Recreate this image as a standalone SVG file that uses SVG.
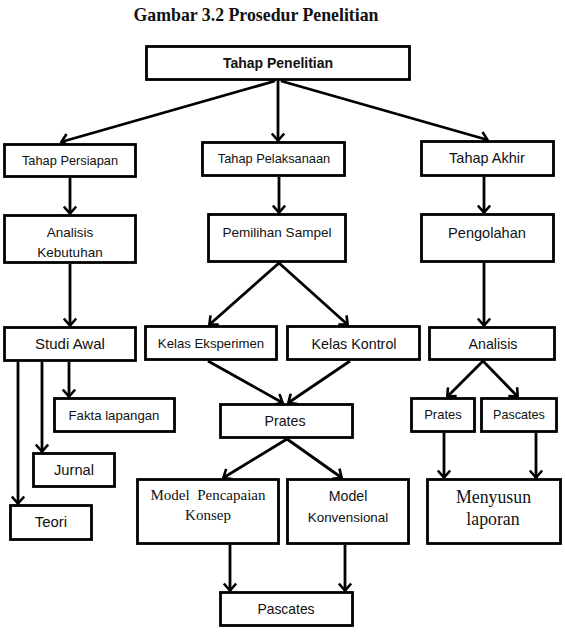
<svg xmlns="http://www.w3.org/2000/svg" width="565" height="639" viewBox="0 0 565 639">
<style>
.box{fill:#fff;stroke:#000;stroke-width:2.8}
.t{font-family:"Liberation Sans",Arial,sans-serif;text-anchor:middle;fill:#111}
.s{font-family:"Liberation Serif","Times New Roman",serif;text-anchor:middle;fill:#111;white-space:pre}
.ln{fill:none;stroke:#000;stroke-width:2.8;marker-end:url(#arr)}
</style>
<defs>
<marker id="arr" viewBox="0 0 14 14" refX="11" refY="7" markerWidth="14" markerHeight="14" markerUnits="userSpaceOnUse" orient="auto">
<path d="M3.5,0.8 L10.5,7 L3.5,13.2" fill="none" stroke="#000" stroke-width="2.6" stroke-linejoin="miter"/>
</marker>
</defs>
<rect width="565" height="639" fill="#fff"/>
<text x="256" y="21" style="font-family:'Liberation Serif','Times New Roman',serif;font-weight:bold;font-size:17.8px;text-anchor:middle;fill:#111">Gambar 3.2 Prosedur Penelitian</text>

<g id="connectors">
<line class="ln" x1="275" y1="81" x2="61" y2="142"/>
<line class="ln" x1="278" y1="81" x2="278" y2="141"/>
<line class="ln" x1="281" y1="81" x2="488" y2="140"/>
<line class="ln" x1="70" y1="178" x2="70" y2="214"/>
<line class="ln" x1="279" y1="177" x2="279" y2="213"/>
<line class="ln" x1="484" y1="177" x2="484" y2="213"/>
<line class="ln" x1="70" y1="264" x2="70" y2="326"/>
<line class="ln" x1="279" y1="263" x2="209" y2="325"/>
<line class="ln" x1="279" y1="263" x2="348" y2="325"/>
<line class="ln" x1="484" y1="263" x2="484" y2="326"/>
<line class="ln" x1="18" y1="362" x2="18" y2="504"/>
<line class="ln" x1="42" y1="362" x2="42" y2="452"/>
<line class="ln" x1="69" y1="362" x2="69" y2="397"/>
<line class="ln" x1="208" y1="361" x2="283" y2="403"/>
<line class="ln" x1="350" y1="361" x2="288" y2="403"/>
<line class="ln" x1="483" y1="361" x2="447" y2="397"/>
<line class="ln" x1="483" y1="361" x2="518" y2="397"/>
<line class="ln" x1="287" y1="439" x2="223" y2="478"/>
<line class="ln" x1="287" y1="439" x2="342" y2="478"/>
<line class="ln" x1="444" y1="433" x2="444" y2="478"/>
<line class="ln" x1="536" y1="433" x2="536" y2="478"/>
<line class="ln" x1="230" y1="545" x2="230" y2="591"/>
<line class="ln" x1="345" y1="545" x2="345" y2="591"/>
</g>

<g id="tahap-penelitian"><rect class="box" x="146.5" y="46.5" width="263" height="33"/><text class="t" x="278" y="68" style="font-size:14px;font-weight:bold">Tahap Penelitian</text></g>
<g id="tahap-persiapan"><rect class="box" x="4.5" y="144.5" width="131" height="32"/><text class="t" x="70" y="164.5" font-size="12.8">Tahap Persiapan</text></g>
<g id="tahap-pelaksanaan"><rect class="box" x="202.5" y="142.5" width="142" height="33"/><text class="t" x="274" y="162.5" font-size="12.8">Tahap Pelaksanaan</text></g>
<g id="tahap-akhir"><rect class="box" x="421.5" y="141.5" width="132" height="34"/><text class="t" x="487" y="163" font-size="14.5">Tahap Akhir</text></g>
<g id="analisis-kebutuhan"><rect class="box" x="4.5" y="215.5" width="131" height="47"/><text class="t" x="70" y="236.5" font-size="13.5">Analisis</text><text class="t" x="70" y="256.5" font-size="13.5">Kebutuhan</text></g>
<g id="pemilihan-sampel"><rect class="box" x="208.5" y="214.5" width="137" height="47"/><text class="t" x="277" y="236.5" font-size="13.5">Pemilihan Sampel</text></g>
<g id="pengolahan"><rect class="box" x="421.5" y="214.5" width="132" height="47"/><text class="t" x="487" y="238" font-size="14.6">Pengolahan</text></g>
<g id="studi-awal"><rect class="box" x="4.5" y="327.5" width="131" height="33"/><text class="t" x="70" y="349" font-size="15">Studi Awal</text></g>
<g id="kelas-eksperimen"><rect class="box" x="145.5" y="326.5" width="131" height="33"/><text class="t" x="211" y="347.5" font-size="13.2">Kelas Eksperimen</text></g>
<g id="kelas-kontrol"><rect class="box" x="287.5" y="326.5" width="132" height="33"/><text class="t" x="354" y="349" font-size="14.3">Kelas Kontrol</text></g>
<g id="analisis"><rect class="box" x="429.5" y="327.5" width="125" height="32"/><text class="t" x="493" y="349" font-size="14.2">Analisis</text></g>
<g id="fakta-lapangan"><rect class="box" x="54.5" y="398.5" width="120" height="33"/><text class="t" x="114" y="419.5" font-size="13.2">Fakta lapangan</text></g>
<g id="prates"><rect class="box" x="220.5" y="404.5" width="132" height="33"/><text class="t" x="285" y="426" font-size="14.2">Prates</text></g>
<g id="prates-akhir"><rect class="box" x="411.5" y="398.5" width="63" height="33"/><text class="t" x="443" y="418.5" font-size="13">Prates</text></g>
<g id="pascates-akhir"><rect class="box" x="481.5" y="398.5" width="75" height="33"/><text class="t" x="519" y="418.5" font-size="12.6">Pascates</text></g>
<g id="jurnal"><rect class="box" x="33.5" y="453.5" width="81" height="33"/><text class="t" x="74" y="475" font-size="14.7">Jurnal</text></g>
<g id="teori"><rect class="box" x="10.5" y="505.5" width="81" height="34"/><text class="t" x="51" y="527" font-size="14.9">Teori</text></g>
<g id="model-pencapaian-konsep"><rect class="box" x="137.5" y="479.5" width="141" height="64"/><text class="s" x="208" y="500" font-size="15">Model  Pencapaian</text><text class="s" x="208" y="520" font-size="15">Konsep</text></g>
<g id="model-konvensional"><rect class="box" x="287.5" y="479.5" width="121" height="64"/><text class="t" x="348" y="501" font-size="14.2">Model</text><text class="t" x="348" y="521.5" font-size="13.4">Konvensional</text></g>
<g id="menyusun-laporan"><rect class="box" x="427.5" y="479.5" width="133" height="64"/><text class="s" x="493.5" y="503" font-size="17.8">Menyusun</text><text class="s" x="493" y="525" font-size="17.8">laporan</text></g>
<g id="pascates"><rect class="box" x="220.5" y="592.5" width="132" height="33"/><text class="t" x="286" y="614" font-size="13.9">Pascates</text></g>
</svg>
